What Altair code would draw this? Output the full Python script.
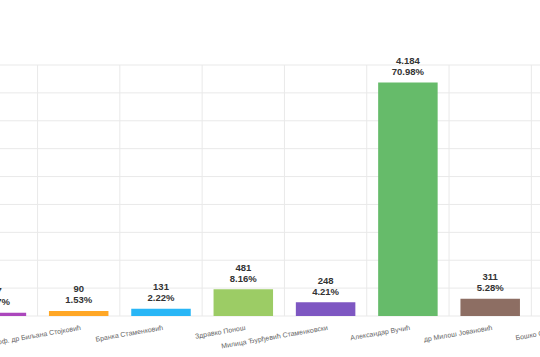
import altair as alt
import pandas as pd

candidates = [
    "Миша Вацић",
    "проф. др Биљана Стојковић",
    "Бранка Стаменковић",
    "Здравко Понош",
    "Милица Ђурђевић Стаменковски",
    "Александар Вучић",
    "др Милош Јовановић",
    "Бошко Обрадовић",
]
votes = [57, 90, 131, 481, 248, 4184, 311, 393]
count_labels = ["57", "90", "131", "481", "248", "4.184", "311", "393"]
pct_labels = ["0.97%", "1.53%", "2.22%", "8.16%", "4.21%", "70.98%", "5.28%", "6.67%"]
colors = ["#ab47bc", "#ffa726", "#29b6f6", "#9ccc65", "#7e57c2", "#66bb6a", "#8d6e63", "#78909c"]
grid_values = [0, 500, 1000, 1500, 2000, 2500, 3000, 3500, 4000, 4500]

df = pd.DataFrame({
    "idx": list(range(len(candidates))),
    "name": candidates,
    "votes": votes,
    "cnt": count_labels,
    "pct": pct_labels,
    "color": colors,
})
grid_df = pd.DataFrame({"v": grid_values})

FONT = "Liberation Sans"
xs = alt.Scale(domain=[0.0437, 6.6051], nice=False, zero=False)
ys = alt.Scale(domain=[-735.1, 5665.3], nice=False, zero=False)

base = alt.Chart(df).transform_calculate(
    zero="0",
    gmax=str(max(grid_values)),
    b="datum.idx - 0.5",
    x1="datum.idx - 0.3615",
    x2="datum.idx + 0.3615",
)

hgrid = alt.Chart(grid_df).mark_rule(color="#e9e9e9", strokeWidth=1).encode(
    y=alt.Y("v:Q", scale=ys, axis=None)
)

vgrid = base.mark_rule(color="#e9e9e9", strokeWidth=1).encode(
    x=alt.X("b:Q", scale=xs, axis=None),
    y=alt.Y("zero:Q", scale=ys, axis=None),
    y2="gmax:Q",
)

bars = base.mark_bar().encode(
    x=alt.X("x1:Q", scale=xs, axis=None),
    x2="x2:Q",
    y=alt.Y("votes:Q", scale=ys, axis=None),
    y2="zero:Q",
    color=alt.Color("color:N", scale=None, legend=None),
)

pct_text = base.mark_text(
    font=FONT, fontSize=9.5, fontWeight="bold", color="#333333",
    align="center", baseline="alphabetic", dy=-7.5,
).encode(
    x=alt.X("idx:Q", scale=xs, axis=None),
    y=alt.Y("votes:Q", scale=ys, axis=None),
    text="pct:N",
)

cnt_text = base.mark_text(
    font=FONT, fontSize=9.5, fontWeight="bold", color="#333333",
    align="center", baseline="alphabetic", dy=-18.5,
).encode(
    x=alt.X("idx:Q", scale=xs, axis=None),
    y=alt.Y("votes:Q", scale=ys, axis=None),
    text="cnt:N",
)

name_text = base.mark_text(
    font=FONT, fontSize=7, color="#666666",
    align="right", baseline="top", angle=350, dy=8,
).encode(
    x=alt.X("idx:Q", scale=xs, axis=None),
    y=alt.Y("zero:Q", scale=ys, axis=None),
    text="name:N",
)

chart = alt.layer(hgrid, vgrid, bars, pct_text, cnt_text, name_text).properties(
    width=540, height=357,
    autosize=alt.AutoSizeParams(type="none"),
    padding=0,
    background="white",
).configure_view(stroke=None)

chart.save("out.html", embed_options={"renderer": "svg", "actions": False})
